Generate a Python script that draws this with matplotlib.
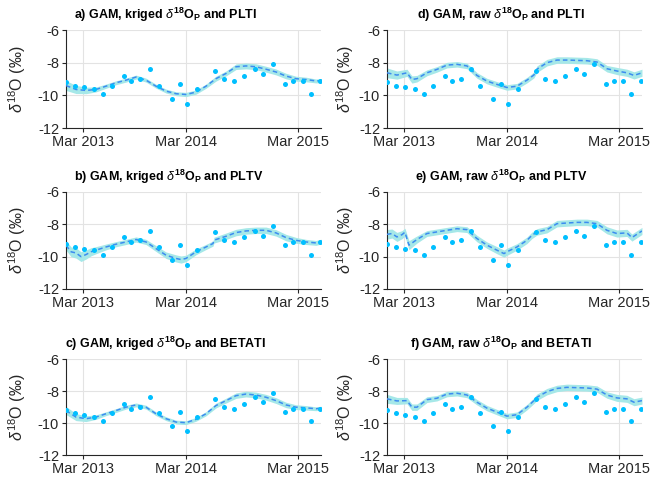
import matplotlib
matplotlib.use("Agg")
import matplotlib.pyplot as plt

plt.rcParams['font.family'] = ['Liberation Sans', 'DejaVu Sans']
plt.rcParams['mathtext.fontset'] = 'custom'
plt.rcParams['mathtext.rm'] = 'Liberation Sans'
plt.rcParams['mathtext.it'] = 'Liberation Sans:italic'
plt.rcParams['mathtext.bf'] = 'Liberation Sans:bold'
plt.rcParams['axes.unicode_minus'] = False

# x values are months since 1 Jan 2013
sample_month = [0.14, 1.14, 2.18, 3.29, 4.29, 5.23, 6.65, 7.40, 8.36, 9.53, 10.53, 11.98, 12.89, 13.61,
                14.70, 16.71, 17.73, 18.81, 19.96, 21.16, 22.13, 23.16, 24.49, 25.47, 26.48, 27.37, 28.45]
sample_d18o = [-9.2, -9.4, -9.5, -9.6, -9.9, -9.4, -8.8, -9.1, -9.0, -8.4, -9.4, -10.2, -9.3, -10.5,
               -9.6, -8.5, -9.0, -9.1, -8.8, -8.4, -8.7, -8.1, -9.3, -9.1, -9.1, -9.9, -9.1]

tick_month = [2.0, 13.47, 26.0]
tick_labels = ['Mar 2013', 'Mar 2014', 'Mar 2015']

# a) kriged, PLTI
month_a = [0.14, 1.25, 2.37, 3.48, 4.59, 5.71, 6.82, 7.94, 9.05, 10.16, 11.28, 12.39, 13.50, 14.62,
           15.73, 16.84, 17.96, 19.07, 20.18, 21.30, 22.41, 23.53, 24.64, 25.75, 26.87, 27.98, 28.54]
gam_a = [-9.4, -9.64, -9.7, -9.64, -9.44, -9.23, -9.07, -8.88, -9.07, -9.44, -9.74, -9.9, -9.95, -9.8,
         -9.44, -8.98, -8.66, -8.25, -8.2, -8.25, -8.4, -8.57, -8.82, -8.98, -9.03, -9.12, -9.1]
ci_a = [0.30, 0.25, 0.20, 0.15, 0.13, 0.12, 0.12, 0.12, 0.12, 0.12, 0.12, 0.12, 0.13, 0.13,
        0.13, 0.15, 0.15, 0.17, 0.18, 0.18, 0.18, 0.18, 0.17, 0.15, 0.14, 0.12, 0.12]

# b) kriged, PLTV
month_b = [0.14, 0.70, 1.25, 1.81, 2.37, 2.92, 3.48, 4.59, 5.71, 6.82, 7.94, 9.05, 10.16, 11.28, 12.39, 12.95,
           13.50, 14.62, 15.73, 16.51, 16.62, 17.96, 19.07, 20.18, 21.30, 22.41, 23.53, 24.64, 25.75, 26.87,
           27.98, 28.54]
gam_b = [-9.3, -9.7, -9.77, -10.0, -9.87, -9.7, -9.6, -9.4, -9.23, -9.09, -8.94, -9.09, -9.5, -9.91, -10.11,
         -10.18, -10.11, -9.7, -9.4, -9.19, -8.98, -8.74, -8.51, -8.41, -8.37, -8.37, -8.53, -8.82, -8.99,
         -9.09, -9.15, -9.07]
ci_b = [0.30, 0.30, 0.32, 0.30, 0.28, 0.25, 0.22, 0.18, 0.16, 0.16, 0.16, 0.16, 0.18, 0.20, 0.22, 0.22,
        0.20, 0.18, 0.16, 0.16, 0.18, 0.20, 0.20, 0.20, 0.20, 0.20, 0.20, 0.20, 0.18, 0.16, 0.15, 0.15]

# c) kriged, BETATI
month_c = month_a
gam_c = [-9.22, -9.63, -9.73, -9.63, -9.42, -9.22, -9.01, -8.87, -9.01, -9.42, -9.73, -9.94, -9.98, -9.77,
         -9.42, -8.91, -8.6, -8.29, -8.19, -8.25, -8.39, -8.6, -8.87, -9.01, -9.05, -9.11, -9.07]
ci_c = [0.25, 0.22, 0.18, 0.14, 0.12, 0.12, 0.12, 0.12, 0.12, 0.12, 0.12, 0.12, 0.12, 0.12,
        0.13, 0.15, 0.15, 0.17, 0.18, 0.18, 0.18, 0.18, 0.17, 0.15, 0.14, 0.12, 0.12]

# d) raw, PLTI
month_d = [0.14, 1.25, 2.37, 2.92, 3.48, 4.59, 5.71, 6.82, 7.94, 9.05, 10.16, 11.28, 12.39, 13.50, 14.62,
           15.73, 16.51, 16.84, 17.96, 19.07, 20.18, 21.30, 22.41, 23.53, 24.64, 25.75, 26.87, 27.65, 28.54]
gam_d = [-8.62, -8.76, -8.62, -9.03, -8.98, -8.62, -8.41, -8.15, -8.1, -8.2, -8.78, -9.13, -9.33, -9.52,
         -9.44, -9.07, -8.75, -8.4, -8.0, -7.84, -7.84, -7.86, -7.88, -7.96, -8.37, -8.51, -8.62, -8.78, -8.62]
ci_d = [0.30, 0.25, 0.22, 0.22, 0.20, 0.18, 0.17, 0.17, 0.17, 0.17, 0.17, 0.17, 0.17, 0.17, 0.17,
        0.17, 0.18, 0.20, 0.20, 0.20, 0.20, 0.20, 0.20, 0.20, 0.20, 0.22, 0.22, 0.22, 0.22]

# e) raw, PLTV
month_e = [0.14, 0.70, 1.25, 1.81, 2.14, 2.59, 3.48, 4.59, 5.71, 6.82, 7.94, 9.05, 10.16, 11.28, 12.39, 13.17,
           13.50, 14.62, 15.73, 16.29, 16.84, 17.96, 19.07, 20.18, 21.30, 22.41, 23.53, 24.64, 25.75, 26.87,
           27.42, 28.54]
gam_e = [-8.62, -8.57, -8.78, -8.64, -8.49, -9.29, -8.94, -8.57, -8.47, -8.37, -8.27, -8.33, -8.88, -9.29,
         -9.6, -9.81, -9.7, -9.4, -8.99, -8.68, -8.47, -8.33, -7.96, -7.92, -7.88, -7.88, -7.96, -8.37, -8.57,
         -8.53, -8.82, -8.41]
ci_e = [0.30, 0.28, 0.28, 0.25, 0.25, 0.28, 0.22, 0.18, 0.18, 0.18, 0.18, 0.18, 0.20, 0.20, 0.22, 0.22,
        0.22, 0.20, 0.20, 0.20, 0.20, 0.20, 0.20, 0.20, 0.20, 0.20, 0.20, 0.22, 0.22, 0.22, 0.22, 0.22]

# f) raw, BETATI
month_f = month_d
gam_f = [-8.49, -8.62, -8.6, -9.01, -9.01, -8.54, -8.45, -8.19, -8.14, -8.25, -8.7, -9.07, -9.32, -9.57,
         -9.48, -9.01, -8.6, -8.39, -8.04, -7.84, -7.77, -7.79, -7.81, -7.88, -8.25, -8.43, -8.49, -8.7, -8.6]
ci_f = [0.28, 0.22, 0.20, 0.20, 0.20, 0.18, 0.17, 0.17, 0.17, 0.17, 0.17, 0.17, 0.17, 0.17, 0.17,
        0.17, 0.18, 0.20, 0.20, 0.20, 0.20, 0.20, 0.20, 0.20, 0.20, 0.22, 0.22, 0.22, 0.22]

d18 = r'$\mathit{\delta}^{\mathbf{18}}\mathbf{O}_{\mathbf{P}}$'
panels = [
    ('a) GAM, kriged ' + d18 + ' and PLTI', month_a, gam_a, ci_a, 0.392),
    ('b) GAM, kriged ' + d18 + ' and PLTV', month_b, gam_b, ci_b, 0.402),
    ('c) GAM, kriged ' + d18 + ' and BETATI', month_c, gam_c, ci_c, 0.392),
    ('d) GAM, raw ' + d18 + ' and PLTI', month_d, gam_d, ci_d, 0.447),
    ('e) GAM, raw ' + d18 + ' and PLTV', month_e, gam_e, ci_e, 0.447),
    ('f) GAM, raw ' + d18 + ' and BETATI', month_f, gam_f, ci_f, 0.447),
]

fig = plt.figure(figsize=(6.53, 4.88), dpi=100)

lefts = [0.1011, 0.5926]
bottoms = [0.7377, 0.4078, 0.0676]
heights = [0.2008, 0.1988, 0.1967]
width = 0.3905

axis_col = '#262626'
for k, (title, xm, gam, ci, tx) in enumerate(panels):
    col, row = divmod(k, 3)
    ax = fig.add_axes([lefts[col], bottoms[row], width, heights[row]])
    lo = [g - c for g, c in zip(gam, ci)]
    hi = [g + c for g, c in zip(gam, ci)]
    ax.fill_between(xm, lo, hi, color='#A6E8E8', linewidth=0, zorder=2)
    ax.plot(xm, gam, '--', color='#3C8CF0', linewidth=1.1, dashes=(3, 2), zorder=3)
    ax.scatter(sample_month, sample_d18o, s=13, color='#00BFFF', linewidths=0, zorder=4)

    ax.set_xlim(0.14, 28.54)
    ax.set_ylim(-12, -6)
    ax.set_yticks([-12, -10, -8, -6])
    ax.set_xticks(tick_month)
    ax.set_xticklabels(tick_labels)
    ax.grid(True, color='#E3E3E3', linewidth=0.8, zorder=0)
    ax.set_axisbelow(True)
    for s in ['top', 'right']:
        ax.spines[s].set_visible(False)
    for s in ['left', 'bottom']:
        ax.spines[s].set_color(axis_col)
        ax.spines[s].set_linewidth(0.8)
    ax.tick_params(labelsize=10.5, colors=axis_col, length=3, width=0.8, pad=2)
    ax.set_ylabel(r'$\mathit{\delta}^{18}$O (‰)', fontsize=11.5, color=axis_col)
    ax.yaxis.set_label_coords(-0.15 if col == 0 else -0.12, 0.5)
    ax.text(tx, 1.11, title, transform=ax.transAxes, ha='center', va='baseline',
            fontsize=9, fontweight='bold')

fig.savefig('out.png', dpi=100)
